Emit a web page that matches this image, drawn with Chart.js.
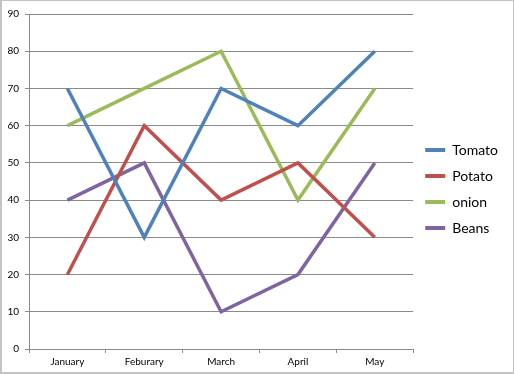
<!DOCTYPE html>
<html>
<head>
<meta charset="utf-8">
<script src="https://cdn.jsdelivr.net/npm/chart.js@4"></script>
<style>
  body { margin: 0; background: #fff; }
  #wrap { position: relative; width: 514px; height: 374px; box-sizing: border-box; border: 1px solid #c4c4c4; border-left-width: 2px; border-bottom-width: 2px; }
  canvas { display: block; }
</style>
</head>
<body>
<div id="wrap"><canvas id="myChart" width="511" height="371"></canvas></div>
<script>
const months = ['January', 'Feburary', 'March', 'April', 'May']
const tomato = [70, 30, 70, 60, 80]
const potato = [20, 60, 40, 50, 30]
const onion = [60, 70, 80, 40, 70]
const beans = [40, 50, 10, 20, 50]

const FONT = 'Lato, "Open Sans", sans-serif'
const GRID = '#8a8a8a'

function series(label, data, color) {
  return {
    label: label,
    data: data,
    borderColor: color,
    backgroundColor: color,
    borderWidth: 3.5,
    pointRadius: 0,
    tension: 0,
    fill: false
  }
}

var ctx = document.getElementById('myChart').getContext('2d');
var chart = new Chart(ctx, {
  type: 'line',
  data: {
    labels: months,
    datasets: [
      series('Tomato', tomato, '#4f81bd'),
      series('Potato', potato, '#c0504d'),
      series('onion', onion, '#9bbb59'),
      series('Beans', beans, '#8064a2')
    ]
  },
  options: {
    responsive: false,
    animation: false,
    layout: { padding: { left: 0, top: 5, right: 5, bottom: 0 } },
    plugins: {
      tooltip: { enabled: false },
      // empty title, only spans the plot so the legend stays centred higher
      title: {
        display: true,
        text: ' ',
        fullSize: false,
        font: { size: 2, lineHeight: 1 },
        padding: 3
      },
      legend: {
        position: 'right',
        labels: {
          color: '#000',
          font: { family: FONT, size: 14 },
          boxWidth: 20,
          boxHeight: 4,
          padding: 12,
          generateLabels: function(c) {
            var items = Chart.defaults.plugins.legend.labels.generateLabels(c)
            items.forEach(function(it) {
              it.fillStyle = it.strokeStyle
              it.lineWidth = 0
            })
            return items
          }
        }
      }
    },
    scales: {
      x: {
        offset: true,
        grid: { offset: true, drawOnChartArea: false, drawTicks: true, tickLength: 4, color: GRID },
        border: { color: GRID },
        ticks: { color: '#000', font: { family: FONT, size: 10 }, padding: 3, maxRotation: 0 },
        afterFit: function(s) { s.height = 23 }
      },
      y: {
        min: 0,
        max: 90,
        grid: { color: GRID, tickLength: 4 },
        border: { color: GRID },
        ticks: { stepSize: 10, color: '#000', font: { family: FONT, size: 10 }, padding: 6 },
        afterFit: function(s) { s.width = 27 }
      }
    }
  }
});
</script>
</body>
</html>
